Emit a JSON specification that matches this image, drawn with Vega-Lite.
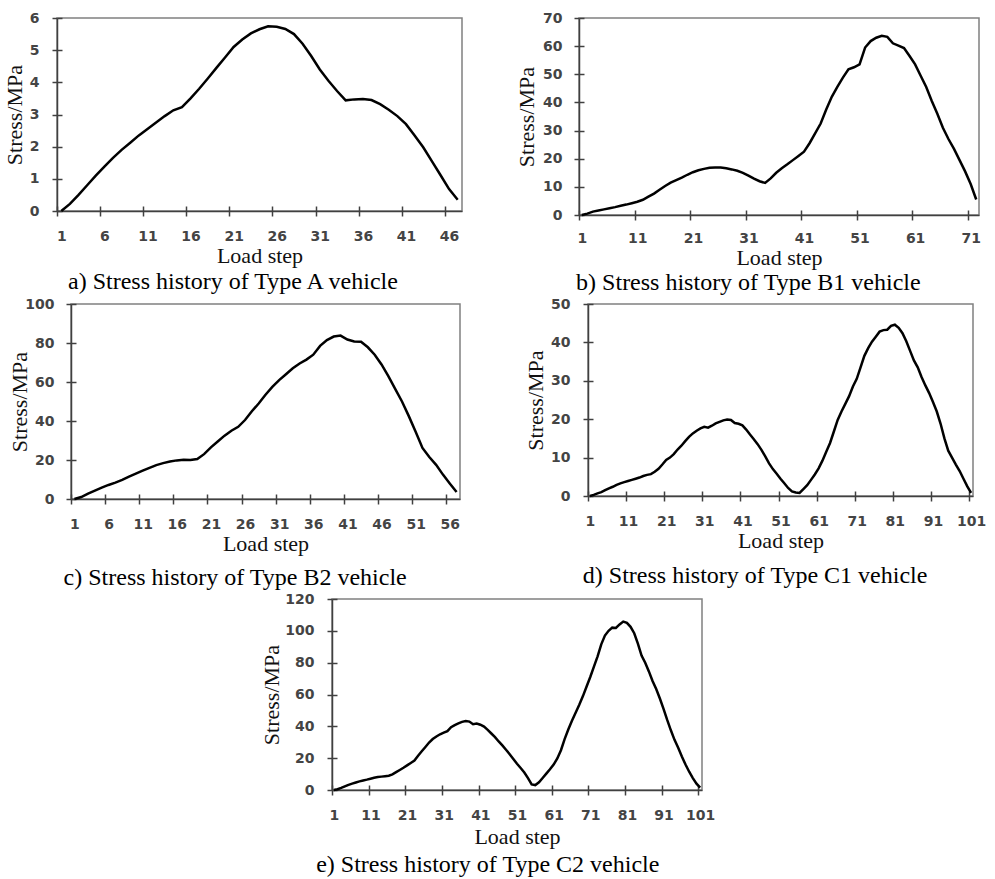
{
  "$schema": "https://vega.github.io/schema/vega-lite/v6.json",
  "background": "white",
  "padding": {"left": 1, "top": 10, "right": 5, "bottom": 5},
  "config": {
    "view": {"stroke": "#808080", "strokeWidth": 1.5},
    "axis": {"labelFont": "DejaVu Sans", "labelFontWeight": "bold", "labelFontSize": 14, "labelColor": "#444444", "titleFont": "Liberation Serif", "titleFontSize": 22, "titleFontWeight": "normal", "titleColor": "#111111", "domainColor": "#404040", "domainWidth": 1.5, "tickColor": "#404040", "tickWidth": 1.5, "grid": false, "labelFlush": false, "labelOverlap": false, "labelBound": false},
    "title": {"orient": "bottom", "anchor": "middle", "frame": "bounds", "font": "Liberation Serif", "fontSize": 24, "fontWeight": "normal", "color": "#000000", "offset": 6},
    "line": {"color": "#000000", "strokeWidth": 2.5}
  },
  "datasets": {
    "A": [{"step":1,"stress":0},{"step":2,"stress":0.22},{"step":3,"stress":0.5},{"step":4,"stress":0.8},{"step":5,"stress":1.1},{"step":6,"stress":1.38},{"step":7,"stress":1.65},{"step":8,"stress":1.9},{"step":9,"stress":2.12},{"step":10,"stress":2.35},{"step":11,"stress":2.55},{"step":12,"stress":2.75},{"step":13,"stress":2.95},{"step":14,"stress":3.13},{"step":15,"stress":3.23},{"step":16,"stress":3.5},{"step":17,"stress":3.8},{"step":18,"stress":4.12},{"step":19,"stress":4.45},{"step":20,"stress":4.77},{"step":21,"stress":5.1},{"step":22,"stress":5.33},{"step":23,"stress":5.52},{"step":24,"stress":5.65},{"step":25,"stress":5.74},{"step":26,"stress":5.73},{"step":27,"stress":5.66},{"step":28,"stress":5.5},{"step":29,"stress":5.2},{"step":30,"stress":4.82},{"step":31,"stress":4.4},{"step":32,"stress":4.05},{"step":33,"stress":3.73},{"step":34,"stress":3.44},{"step":35,"stress":3.47},{"step":36,"stress":3.48},{"step":37,"stress":3.45},{"step":38,"stress":3.32},{"step":39,"stress":3.15},{"step":40,"stress":2.95},{"step":41,"stress":2.7},{"step":42,"stress":2.35},{"step":43,"stress":1.98},{"step":44,"stress":1.55},{"step":45,"stress":1.12},{"step":46,"stress":0.68},{"step":47,"stress":0.35}],
    "B1": [{"step":1,"stress":0},{"step":2,"stress":0.5},{"step":3,"stress":1.2},{"step":4,"stress":1.6},{"step":5,"stress":2.0},{"step":6,"stress":2.4},{"step":7,"stress":2.8},{"step":8,"stress":3.3},{"step":9,"stress":3.7},{"step":10,"stress":4.2},{"step":11,"stress":4.7},{"step":12,"stress":5.4},{"step":13,"stress":6.5},{"step":14,"stress":7.6},{"step":15,"stress":9.0},{"step":16,"stress":10.3},{"step":17,"stress":11.5},{"step":18,"stress":12.4},{"step":19,"stress":13.3},{"step":20,"stress":14.3},{"step":21,"stress":15.2},{"step":22,"stress":15.9},{"step":23,"stress":16.4},{"step":24,"stress":16.8},{"step":25,"stress":16.9},{"step":26,"stress":16.9},{"step":27,"stress":16.6},{"step":28,"stress":16.2},{"step":29,"stress":15.7},{"step":30,"stress":15.0},{"step":31,"stress":14.0},{"step":32,"stress":12.9},{"step":33,"stress":12.0},{"step":34,"stress":11.4},{"step":35,"stress":13.0},{"step":36,"stress":15.0},{"step":37,"stress":16.6},{"step":38,"stress":18.0},{"step":39,"stress":19.5},{"step":40,"stress":21.0},{"step":41,"stress":22.5},{"step":42,"stress":25.5},{"step":43,"stress":29.0},{"step":44,"stress":32.5},{"step":45,"stress":37.5},{"step":46,"stress":42.0},{"step":47,"stress":45.5},{"step":48,"stress":48.8},{"step":49,"stress":51.8},{"step":50,"stress":52.5},{"step":51,"stress":53.5},{"step":52,"stress":59.5},{"step":53,"stress":61.8},{"step":54,"stress":63.0},{"step":55,"stress":63.7},{"step":56,"stress":63.3},{"step":57,"stress":61.0},{"step":58,"stress":60.2},{"step":59,"stress":59.3},{"step":60,"stress":56.5},{"step":61,"stress":53.5},{"step":62,"stress":49.5},{"step":63,"stress":45.5},{"step":64,"stress":40.5},{"step":65,"stress":36.0},{"step":66,"stress":31.0},{"step":67,"stress":27.0},{"step":68,"stress":23.5},{"step":69,"stress":19.5},{"step":70,"stress":15.5},{"step":71,"stress":11.0},{"step":72,"stress":5.5}],
    "B2": [{"step":1,"stress":0},{"step":2,"stress":1.0},{"step":3,"stress":2.8},{"step":4,"stress":4.3},{"step":5,"stress":5.8},{"step":6,"stress":7.2},{"step":7,"stress":8.4},{"step":8,"stress":9.8},{"step":9,"stress":11.5},{"step":10,"stress":13},{"step":11,"stress":14.5},{"step":12,"stress":16},{"step":13,"stress":17.4},{"step":14,"stress":18.4},{"step":15,"stress":19.2},{"step":16,"stress":19.8},{"step":17,"stress":20.1},{"step":18,"stress":20.0},{"step":19,"stress":20.5},{"step":20,"stress":23},{"step":21,"stress":26.5},{"step":22,"stress":29.5},{"step":23,"stress":32.5},{"step":24,"stress":35},{"step":25,"stress":37},{"step":26,"stress":40.5},{"step":27,"stress":45},{"step":28,"stress":49},{"step":29,"stress":53.5},{"step":30,"stress":57.5},{"step":31,"stress":61},{"step":32,"stress":64},{"step":33,"stress":67},{"step":34,"stress":69.5},{"step":35,"stress":71.5},{"step":36,"stress":74},{"step":37,"stress":78.5},{"step":38,"stress":81.5},{"step":39,"stress":83.3},{"step":40,"stress":83.8},{"step":41,"stress":81.8},{"step":42,"stress":80.8},{"step":43,"stress":80.6},{"step":44,"stress":77.8},{"step":45,"stress":74},{"step":46,"stress":69},{"step":47,"stress":63},{"step":48,"stress":56.5},{"step":49,"stress":50},{"step":50,"stress":42.5},{"step":51,"stress":34.5},{"step":52,"stress":26.2},{"step":53,"stress":21.5},{"step":54,"stress":17.5},{"step":55,"stress":12.5},{"step":56,"stress":8},{"step":57,"stress":3.6}],
    "C1": [{"step":1,"stress":0},{"step":2,"stress":0.3},{"step":3,"stress":0.7},{"step":4,"stress":1.0},{"step":5,"stress":1.5},{"step":6,"stress":2.0},{"step":7,"stress":2.4},{"step":8,"stress":2.9},{"step":9,"stress":3.3},{"step":10,"stress":3.6},{"step":11,"stress":3.9},{"step":12,"stress":4.2},{"step":13,"stress":4.5},{"step":14,"stress":4.8},{"step":15,"stress":5.2},{"step":16,"stress":5.5},{"step":17,"stress":5.7},{"step":18,"stress":6.3},{"step":19,"stress":7.1},{"step":20,"stress":8.2},{"step":21,"stress":9.4},{"step":22,"stress":10.0},{"step":23,"stress":10.9},{"step":24,"stress":12.1},{"step":25,"stress":13.1},{"step":26,"stress":14.3},{"step":27,"stress":15.4},{"step":28,"stress":16.3},{"step":29,"stress":17.0},{"step":30,"stress":17.6},{"step":31,"stress":18.0},{"step":32,"stress":17.8},{"step":33,"stress":18.3},{"step":34,"stress":18.9},{"step":35,"stress":19.3},{"step":36,"stress":19.7},{"step":37,"stress":19.9},{"step":38,"stress":19.8},{"step":39,"stress":19.0},{"step":40,"stress":18.8},{"step":41,"stress":18.4},{"step":42,"stress":17.3},{"step":43,"stress":16.0},{"step":44,"stress":14.8},{"step":45,"stress":13.5},{"step":46,"stress":12.0},{"step":47,"stress":10.3},{"step":48,"stress":8.5},{"step":49,"stress":7.0},{"step":50,"stress":5.8},{"step":51,"stress":4.5},{"step":52,"stress":3.3},{"step":53,"stress":2.1},{"step":54,"stress":1.2},{"step":55,"stress":0.9},{"step":56,"stress":0.8},{"step":57,"stress":1.8},{"step":58,"stress":2.8},{"step":59,"stress":4.2},{"step":60,"stress":5.6},{"step":61,"stress":7.2},{"step":62,"stress":9.2},{"step":63,"stress":11.5},{"step":64,"stress":13.8},{"step":65,"stress":16.8},{"step":66,"stress":19.8},{"step":67,"stress":22.0},{"step":68,"stress":24.0},{"step":69,"stress":26.0},{"step":70,"stress":28.5},{"step":71,"stress":30.5},{"step":72,"stress":33.5},{"step":73,"stress":36.5},{"step":74,"stress":38.5},{"step":75,"stress":40.2},{"step":76,"stress":41.5},{"step":77,"stress":42.8},{"step":78,"stress":43.2},{"step":79,"stress":43.3},{"step":80,"stress":44.3},{"step":81,"stress":44.6},{"step":82,"stress":43.8},{"step":83,"stress":42.4},{"step":84,"stress":40.3},{"step":85,"stress":37.8},{"step":86,"stress":35.3},{"step":87,"stress":33.5},{"step":88,"stress":31.0},{"step":89,"stress":28.8},{"step":90,"stress":26.8},{"step":91,"stress":24.5},{"step":92,"stress":22.0},{"step":93,"stress":18.8},{"step":94,"stress":15.0},{"step":95,"stress":11.8},{"step":96,"stress":10.0},{"step":97,"stress":8.2},{"step":98,"stress":6.5},{"step":99,"stress":4.5},{"step":100,"stress":2.5},{"step":101,"stress":0.8}],
    "C2": [{"step":1,"stress":0},{"step":2,"stress":0.5},{"step":3,"stress":1.3},{"step":4,"stress":2.3},{"step":5,"stress":3.2},{"step":6,"stress":4.0},{"step":7,"stress":4.7},{"step":8,"stress":5.4},{"step":9,"stress":6.0},{"step":10,"stress":6.5},{"step":11,"stress":7.1},{"step":12,"stress":7.7},{"step":13,"stress":8.1},{"step":14,"stress":8.4},{"step":15,"stress":8.7},{"step":16,"stress":9.0},{"step":17,"stress":9.8},{"step":18,"stress":11.2},{"step":19,"stress":12.6},{"step":20,"stress":14.0},{"step":21,"stress":15.5},{"step":22,"stress":17.0},{"step":23,"stress":18.5},{"step":24,"stress":21.5},{"step":25,"stress":24.3},{"step":26,"stress":27.0},{"step":27,"stress":29.8},{"step":28,"stress":32.0},{"step":29,"stress":33.6},{"step":30,"stress":35.0},{"step":31,"stress":36.0},{"step":32,"stress":37.0},{"step":33,"stress":39.5},{"step":34,"stress":40.8},{"step":35,"stress":41.9},{"step":36,"stress":42.8},{"step":37,"stress":43.4},{"step":38,"stress":43.0},{"step":39,"stress":41.3},{"step":40,"stress":41.8},{"step":41,"stress":41.0},{"step":42,"stress":39.8},{"step":43,"stress":37.8},{"step":44,"stress":35.5},{"step":45,"stress":33.2},{"step":46,"stress":30.5},{"step":47,"stress":28.0},{"step":48,"stress":25.3},{"step":49,"stress":22.5},{"step":50,"stress":19.5},{"step":51,"stress":16.5},{"step":52,"stress":13.8},{"step":53,"stress":11.0},{"step":54,"stress":7.5},{"step":55,"stress":3.5},{"step":56,"stress":3.1},{"step":57,"stress":4.8},{"step":58,"stress":7.5},{"step":59,"stress":10.3},{"step":60,"stress":13.0},{"step":61,"stress":16.0},{"step":62,"stress":19.8},{"step":63,"stress":25.0},{"step":64,"stress":32.0},{"step":65,"stress":38.0},{"step":66,"stress":43.5},{"step":67,"stress":48.5},{"step":68,"stress":53.5},{"step":69,"stress":59.0},{"step":70,"stress":65.0},{"step":71,"stress":71.0},{"step":72,"stress":77.5},{"step":73,"stress":84.0},{"step":74,"stress":91.5},{"step":75,"stress":97.0},{"step":76,"stress":100.0},{"step":77,"stress":102.0},{"step":78,"stress":101.8},{"step":79,"stress":104.0},{"step":80,"stress":105.8},{"step":81,"stress":105.0},{"step":82,"stress":102.5},{"step":83,"stress":98.5},{"step":84,"stress":92.0},{"step":85,"stress":84.5},{"step":86,"stress":80.0},{"step":87,"stress":74.5},{"step":88,"stress":68.5},{"step":89,"stress":63.5},{"step":90,"stress":57.5},{"step":91,"stress":51.0},{"step":92,"stress":44.0},{"step":93,"stress":37.5},{"step":94,"stress":31.5},{"step":95,"stress":26.5},{"step":96,"stress":21.0},{"step":97,"stress":16.0},{"step":98,"stress":11.5},{"step":99,"stress":7.5},{"step":100,"stress":4.0},{"step":101,"stress":1.5}]
  },
  "spacing": 0,
  "vconcat": [
    {
      "spacing": 0,
      "hconcat": [
        {"width": 1, "height": 1, "data": {"values": []}, "mark": "point", "view": {"stroke": null}},
        {
          "spacing": 50,
          "hconcat": [
            {
              "width": 405, "height": 193,
              "data": {"name": "A"},
              "title": {"text": "a) Stress history of Type A vehicle", "offset": 4},
              "layer": [
                {"mark": {"type": "line"},
                 "encoding": {
                   "x": {"field": "step", "type": "quantitative", "scale": {"domain": [0.5, 47.5], "nice": false, "zero": false},
                         "axis": {"values": [1,6,11,16,21,26,31,36,41,46], "tickOffset": -4.31, "labelOffset": 4.31, "tickSize": 5, "labelPadding": 13, "title": "Load step", "titlePadding": 2}},
                   "y": {"field": "stress", "type": "quantitative", "scale": {"domain": [0, 6], "nice": false},
                         "axis": {"values": [0,1,2,3,4,5,6], "tickSize": 5, "labelPadding": 13, "title": "Stress/MPa", "titlePadding": 3}}
                 }},
                {"mark": {"type": "line", "opacity": 0},
                 "encoding": {
                   "x": {"field": "step", "type": "quantitative", "axis": {"orient": "top", "offset": -193, "values": [1,6,11,16,21,26,31,36,41,46], "tickOffset": -4.31, "tickSize": 5, "labels": false, "domain": false, "title": null}},
                   "y": {"field": "stress", "type": "quantitative", "axis": {"orient": "right", "offset": -405, "values": [0,1,2,3,4,5,6], "tickSize": 5, "labels": false, "domain": false, "title": null}}
                 }}
              ],
              "resolve": {"axis": {"x": "independent", "y": "independent"}}
            },
            {
              "width": 400, "height": 197,
              "data": {"name": "B1"},
              "title": {"text": "b) Stress history of Type B1 vehicle", "offset": 3},
              "layer": [
                {"mark": {"type": "line"},
                 "encoding": {
                   "x": {"field": "step", "type": "quantitative", "scale": {"domain": [0.5, 72.5], "nice": false, "zero": false},
                         "axis": {"values": [1,11,21,31,41,51,61,71], "tickOffset": -2.78, "labelOffset": 2.78, "tickSize": 5, "labelPadding": 11, "title": "Load step", "titlePadding": 2}},
                   "y": {"field": "stress", "type": "quantitative", "scale": {"domain": [0, 70], "nice": false},
                         "axis": {"values": [0,10,20,30,40,50,60,70], "tickSize": 5, "labelPadding": 12, "title": "Stress/MPa", "titlePadding": 4}}
                 }},
                {"mark": {"type": "line", "opacity": 0},
                 "encoding": {
                   "x": {"field": "step", "type": "quantitative", "axis": {"orient": "top", "offset": -197, "values": [1,11,21,31,41,51,61,71], "tickOffset": -2.78, "tickSize": 5, "labels": false, "domain": false, "title": null}},
                   "y": {"field": "stress", "type": "quantitative", "axis": {"orient": "right", "offset": -400, "values": [0,10,20,30,40,50,60,70], "tickSize": 5, "labels": false, "domain": false, "title": null}}
                 }}
              ],
              "resolve": {"axis": {"x": "independent", "y": "independent"}}
            }
          ]
        }
      ]
    },
    {
      "spacing": 0,
      "hconcat": [
        {"width": 7, "height": 1, "data": {"values": []}, "mark": "point", "view": {"stroke": null}},
        {
          "spacing": 60,
          "hconcat": [
            {
              "width": 389, "height": 195,
              "data": {"name": "B2"},
              "title": {"text": "c) Stress history of Type B2 vehicle", "offset": 12},
              "layer": [
                {"mark": {"type": "line"},
                 "encoding": {
                   "x": {"field": "step", "type": "quantitative", "scale": {"domain": [0.5, 57.5], "nice": false, "zero": false},
                         "axis": {"values": [1,6,11,16,21,26,31,36,41,46,51,56], "tickOffset": -3.41, "labelOffset": 3.41, "tickSize": 5, "labelPadding": 13, "title": "Load step", "titlePadding": 2}},
                   "y": {"field": "stress", "type": "quantitative", "scale": {"domain": [0, 100], "nice": false},
                         "axis": {"values": [0,20,40,60,80,100], "tickSize": 5, "labelPadding": 12, "title": "Stress/MPa", "titlePadding": -7}}
                 }},
                {"mark": {"type": "line", "opacity": 0},
                 "encoding": {
                   "x": {"field": "step", "type": "quantitative", "axis": {"orient": "top", "offset": -195, "values": [1,6,11,16,21,26,31,36,41,46,51,56], "tickOffset": -3.41, "tickSize": 5, "labels": false, "domain": false, "title": null}},
                   "y": {"field": "stress", "type": "quantitative", "axis": {"orient": "right", "offset": -389, "values": [0,20,40,60,80,100], "tickSize": 5, "labels": false, "domain": false, "title": null}}
                 }}
              ],
              "resolve": {"axis": {"x": "independent", "y": "independent"}}
            },
            {
              "width": 385, "height": 192,
              "data": {"name": "C1"},
              "title": {"text": "d) Stress history of Type C1 vehicle", "offset": 13},
              "layer": [
                {"mark": {"type": "line"},
                 "encoding": {
                   "x": {"field": "step", "type": "quantitative", "scale": {"domain": [0.5, 101.5], "nice": false, "zero": false},
                         "axis": {"values": [1,11,21,31,41,51,61,71,81,91,101], "tickOffset": -1.91, "labelOffset": 1.91, "tickSize": 5, "labelPadding": 13, "title": "Load step", "titlePadding": 2}},
                   "y": {"field": "stress", "type": "quantitative", "scale": {"domain": [0, 50], "nice": false},
                         "axis": {"values": [0,10,20,30,40,50], "tickSize": 5, "labelPadding": 13, "title": "Stress/MPa", "titlePadding": 3}}
                 }},
                {"mark": {"type": "line", "opacity": 0},
                 "encoding": {
                   "x": {"field": "step", "type": "quantitative", "axis": {"orient": "top", "offset": -192, "values": [1,11,21,31,41,51,61,71,81,91,101], "tickOffset": -1.91, "tickSize": 5, "labels": false, "domain": false, "title": null}},
                   "y": {"field": "stress", "type": "quantitative", "axis": {"orient": "right", "offset": -385, "values": [0,10,20,30,40,50], "tickSize": 5, "labels": false, "domain": false, "title": null}}
                 }}
              ],
              "resolve": {"axis": {"x": "independent", "y": "independent"}}
            }
          ]
        }
      ]
    },
    {
      "spacing": 0,
      "hconcat": [
        {"width": 259, "height": 1, "data": {"values": []}, "mark": "point", "view": {"stroke": null}},
        {
          "width": 370, "height": 191,
          "data": {"name": "C2"},
          "title": {"text": "e) Stress history of Type C2 vehicle", "offset": 6},
          "layer": [
            {"mark": {"type": "line"},
             "encoding": {
               "x": {"field": "step", "type": "quantitative", "scale": {"domain": [0.5, 101.5], "nice": false, "zero": false},
                     "axis": {"values": [1,11,21,31,41,51,61,71,81,91,101], "tickOffset": -1.83, "labelOffset": 1.83, "tickSize": 5, "labelPadding": 13, "title": "Load step", "titlePadding": 4}},
               "y": {"field": "stress", "type": "quantitative", "scale": {"domain": [0, 120], "nice": false},
                     "axis": {"values": [0,20,40,60,80,100,120], "tickSize": 5, "labelPadding": 13, "title": "Stress/MPa", "titlePadding": 1}}
             }},
            {"mark": {"type": "line", "opacity": 0},
             "encoding": {
               "x": {"field": "step", "type": "quantitative", "axis": {"orient": "top", "offset": -191, "values": [1,11,21,31,41,51,61,71,81,91,101], "tickOffset": -1.83, "tickSize": 5, "labels": false, "domain": false, "title": null}},
               "y": {"field": "stress", "type": "quantitative", "axis": {"orient": "right", "offset": -370, "values": [0,20,40,60,80,100,120], "tickSize": 5, "labels": false, "domain": false, "title": null}}
             }}
          ],
          "resolve": {"axis": {"x": "independent", "y": "independent"}}
        }
      ]
    }
  ]
}
